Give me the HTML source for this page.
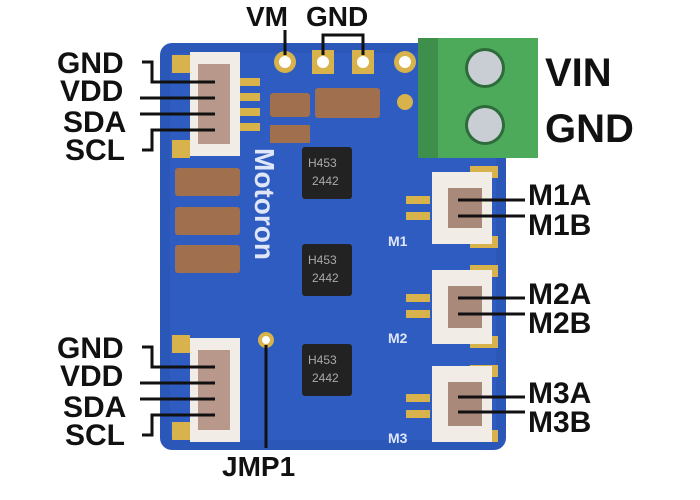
<!DOCTYPE html><html><head><style>body{margin:0;background:#fff}svg{display:block}text{font-family:"Liberation Sans",sans-serif;font-weight:bold;fill:#111}</style></head><body>
<svg width="700" height="500" viewBox="0 0 700 500">
<rect x="160" y="43" width="346" height="407" rx="12" fill="#2b57b9"/>
<rect x="170" y="53" width="326" height="387" rx="8" fill="#3262c8" opacity="0.5"/>
<g fill="#d8b24a"><circle cx="285" cy="62" r="11"/><rect x="312" y="50" width="22" height="24"/><rect x="352" y="50" width="22" height="24"/><circle cx="405" cy="62" r="11"/><circle cx="405" cy="102" r="8"/><circle cx="266" cy="340" r="8"/></g>
<g fill="#fff"><circle cx="285" cy="62" r="6"/><circle cx="323" cy="62" r="6"/><circle cx="363" cy="62" r="6"/><circle cx="405" cy="62" r="6"/><circle cx="266" cy="340" r="4"/></g>
<rect x="418" y="38" width="120" height="120" fill="#4caa5a"/><rect x="418" y="38" width="20" height="120" fill="#3d8f4b"/>
<circle cx="485" cy="68" r="20" fill="#2e6b3a"/><circle cx="485" cy="68" r="17" fill="#c9ced4"/>
<circle cx="485" cy="125" r="20" fill="#2e6b3a"/><circle cx="485" cy="125" r="17" fill="#c9ced4"/>
<g fill="#d8b24a"><rect x="172" y="55" width="18" height="18"/><rect x="172" y="140" width="18" height="18"/><rect x="240" y="78" width="20" height="8"/><rect x="240" y="93" width="20" height="8"/><rect x="240" y="108" width="20" height="8"/><rect x="240" y="123" width="20" height="8"/>
<rect x="172" y="335" width="18" height="18"/><rect x="172" y="422" width="18" height="18"/>
<rect x="470" y="166" width="28" height="12"/><rect x="470" y="236" width="28" height="12"/><rect x="470" y="265" width="28" height="12"/><rect x="470" y="336" width="28" height="12"/><rect x="470" y="365" width="28" height="12"/><rect x="470" y="430" width="28" height="12"/></g>
<rect x="190" y="52" width="50" height="104" fill="#f1ece6"/><rect x="198" y="64" width="32" height="80" fill="#b7988a"/>
<rect x="190" y="338" width="50" height="104" fill="#f1ece6"/><rect x="198" y="350" width="32" height="80" fill="#b7988a"/>
<g><rect x="432" y="172" width="60" height="72" fill="#f1ece6"/><rect x="448" y="188" width="34" height="40" fill="#a8897a"/>
<rect x="432" y="270" width="60" height="74" fill="#f1ece6"/><rect x="448" y="286" width="34" height="42" fill="#a8897a"/>
<rect x="432" y="366" width="60" height="76" fill="#f1ece6"/><rect x="448" y="382" width="34" height="44" fill="#a8897a"/></g>
<g fill="#d8b24a"><rect x="406" y="196" width="24" height="8"/><rect x="406" y="212" width="24" height="8"/><rect x="406" y="294" width="24" height="8"/><rect x="406" y="310" width="24" height="8"/><rect x="406" y="394" width="24" height="8"/><rect x="406" y="410" width="24" height="8"/></g>
<g fill="#a0704e"><rect x="270" y="93" width="40" height="24" rx="3"/><rect x="315" y="88" width="65" height="30" rx="3"/><rect x="270" y="125" width="40" height="18"/>
<rect x="175" y="168" width="65" height="28" rx="3"/><rect x="175" y="207" width="65" height="28" rx="3"/><rect x="175" y="245" width="65" height="28" rx="3"/></g>
<g fill="#222"><rect x="302" y="147" width="50" height="52" rx="3"/><rect x="302" y="244" width="50" height="52" rx="3"/><rect x="302" y="344" width="50" height="52" rx="3"/></g>
<g style="font-size:12px"><text x="308" y="167" style="fill:#aaa;font-weight:normal">H453</text><text x="312" y="185" style="fill:#aaa;font-weight:normal">2442</text><text x="308" y="264" style="fill:#aaa;font-weight:normal">H453</text><text x="312" y="282" style="fill:#aaa;font-weight:normal">2442</text><text x="308" y="364" style="fill:#aaa;font-weight:normal">H453</text><text x="312" y="382" style="fill:#aaa;font-weight:normal">2442</text></g>
<text x="0" y="0" transform="translate(255,148) rotate(90)" style="font-size:28px;fill:#dfe6f7">Motoron</text>
<text x="388" y="246" style="font-size:14px;fill:#dfe6f7">M1</text><text x="388" y="343" style="font-size:14px;fill:#dfe6f7">M2</text><text x="388" y="443" style="font-size:14px;fill:#dfe6f7">M3</text>
<g stroke="#111" stroke-width="3" fill="none">
<path d="M142 62H152V82H215"/><path d="M140 98H215"/><path d="M140 114H215"/><path d="M215 130H152V150H142"/>
<path d="M142 347H152V367H215"/><path d="M140 383H215"/><path d="M140 399H215"/><path d="M215 415H152V435H142"/>
<path d="M285 30V55"/><path d="M323 55V35H363V55"/>
<path d="M458 200H525"/><path d="M458 216H525"/><path d="M458 298H525"/><path d="M458 314H525"/><path d="M458 397H525"/><path d="M458 412H525"/>
<path d="M266 345V448"/>
</g>
<g style="font-size:30px"><text x="57" y="73">GND</text><text x="60" y="101">VDD</text><text x="63" y="132">SDA</text><text x="65" y="160">SCL</text>
<text x="57" y="358">GND</text><text x="60" y="386">VDD</text><text x="63" y="417">SDA</text><text x="65" y="445">SCL</text>
<text x="528" y="205">M1A</text><text x="528" y="235">M1B</text><text x="528" y="304">M2A</text><text x="528" y="333">M2B</text><text x="528" y="403">M3A</text><text x="528" y="432">M3B</text></g>
<g style="font-size:28px"><text x="246" y="26">VM</text><text x="306" y="26">GND</text><text x="222" y="476">JMP1</text></g>
<g style="font-size:40px"><text x="545" y="86">VIN</text><text x="545" y="142">GND</text></g>
</svg></body></html>
